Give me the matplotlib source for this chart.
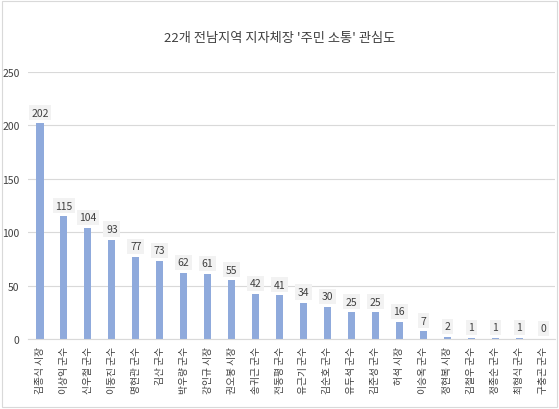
import matplotlib
matplotlib.use("Agg")
import matplotlib.pyplot as plt
from matplotlib.patches import Rectangle

plt.rcParams['font.family'] = ['Noto Sans CJK KR', 'DejaVu Sans']

names = ["김종식 시장", "이상익 군수", "신우철 군수", "이동진 군수", "명현관 군수", "김산 군수",
         "박우량 군수", "강인규 시장", "권오봉 시장", "송귀근 군수", "전동평 군수", "유근기 군수",
         "김순호 군수", "유두석 군수", "김준성 군수", "허석 시장", "이승옥 군수", "정현복 시장",
         "김철우 군수", "정종순 군수", "최형식 군수", "구충곤 군수"]
values = [202, 115, 104, 93, 77, 73, 62, 61, 55, 42, 41, 34, 30, 25, 25, 16, 7, 2, 1, 1, 1, 0]
yticks = [0, 50, 100, 150, 200, 250]
title = "22개 전남지역 지자체장 '주민 소통' 관심도"

fig = plt.figure(figsize=(5.59, 4.10), dpi=100)
ax = fig.add_axes([0.05, 0.171, 0.943, 0.651])
x = list(range(len(values)))
ax.bar(x, values, width=0.3, color='#8FAADC', zorder=2)
ax.set_xlim(-0.5, len(values) - 0.5)
ax.set_ylim(0, 250)
ax.set_yticks(yticks)
ax.yaxis.grid(True, color='#D9D9D9', linewidth=0.8, zorder=0)
for s in ['top', 'right', 'left']:
    ax.spines[s].set_visible(False)
ax.spines['bottom'].set_color('#D9D9D9')
ax.tick_params(axis='y', length=0, labelsize=7.5, colors='#404040', pad=6)
ax.tick_params(axis='x', length=0, pad=5)
ax.set_xticks(x)
ax.set_xticklabels(names, rotation=90, fontsize=7, color='#404040', va='top', ha='center')
for xi, v in zip(x, values):
    ax.annotate(str(v), (xi, v), xytext=(0, 4), textcoords='offset points',
                ha='center', va='bottom', fontsize=7.5, color='#404040',
                bbox=dict(boxstyle='square,pad=0.25', facecolor='#F2F2F2', edgecolor='none'),
                zorder=3)
fig.text(0.5, 0.905, title, ha='center', va='center', fontsize=9.5, color='#404040')
fig.patches.append(Rectangle((0.004, 0.004), 0.992, 0.992, transform=fig.transFigure,
                             fill=False, edgecolor='#D9D9D9', linewidth=0.8))
fig.savefig('out.png', dpi=100)
